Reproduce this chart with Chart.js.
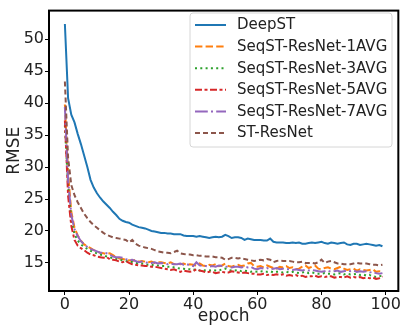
<!DOCTYPE html>
<html>
<head>
<meta charset="utf-8">
<script src="https://cdn.jsdelivr.net/npm/chart.js@4/dist/chart.umd.min.js"></script>
<style>
html,body{margin:0;padding:0;background:#fff;}
#c{display:block;}
</style>
</head>
<body>
<canvas id="c" width="401" height="329"></canvas>
<script>
const epochs = Array.from({length: 100}, (_, i) => i);
const xTicks = [0, 20, 40, 60, 80, 100];
const yTicks = [15, 20, 25, 30, 35, 40, 45, 50];
const seriesNames = ["DeepST", "SeqST-ResNet-1AVG", "SeqST-ResNet-3AVG", "SeqST-ResNet-5AVG", "SeqST-ResNet-7AVG", "ST-ResNet"];

const deepST = [
52.4,40.8,38.2,37.0,35.2,33.6,31.8,30.0,28.0,26.8,
25.9,25.2,24.6,24.1,23.6,23.0,22.5,21.9,21.6,21.4,
21.3,21.0,20.8,20.6,20.5,20.4,20.2,20.0,19.9,19.8,
19.7,19.7,19.6,19.6,19.5,19.5,19.5,19.3,19.2,19.2,
19.2,19.1,19.2,19.1,19.0,18.9,19.0,19.1,19.0,19.1,
19.4,19.2,18.9,19.0,19.0,18.9,18.6,18.8,18.7,18.6,
18.6,18.6,18.5,18.5,18.8,18.3,18.2,18.2,18.2,18.1,
18.1,18.2,18.1,18.2,18.0,18.0,18.1,18.2,18.1,18.2,
18.3,18.1,18.0,18.2,18.1,18.0,18.1,18.2,17.9,17.8,
18.0,18.0,17.8,17.9,18.0,17.9,17.8,17.7,17.8,17.6];

const seq1AVG = [
39.8,29.0,23.0,20.5,19.3,18.5,17.9,17.6,17.3,17.0,
16.8,16.6,16.5,16.4,16.5,16.2,15.9,15.7,15.6,15.5,
15.4,15.3,15.5,15.2,15.3,15.2,15.1,15.2,15.0,15.1,
15.1,15.0,14.9,15.1,14.8,14.9,14.8,14.9,14.7,14.8,
14.7,14.6,14.9,14.6,14.5,14.7,14.6,14.8,14.5,14.6,
14.9,14.5,14.4,14.6,14.7,14.5,14.6,14.9,15.0,14.5,
14.4,14.5,14.3,14.6,14.4,14.2,14.1,14.4,14.3,14.5,
14.2,14.3,14.0,14.1,14.4,14.6,14.2,14.4,14.6,14.1,
14.0,14.2,14.3,14.1,14.0,14.2,14.4,14.1,13.9,14.0,
14.1,13.8,14.0,13.9,13.8,13.9,14.0,13.6,13.7,13.6];

const seq3AVG = [
36.5,27.0,21.8,19.5,18.5,17.9,17.5,17.2,16.9,16.7,
16.5,16.3,16.2,16.0,15.9,15.7,15.6,15.5,15.4,15.3,
15.3,15.1,15.0,15.0,14.9,14.8,14.7,14.7,14.6,14.6,
14.5,14.5,14.4,14.4,14.3,14.2,14.1,14.1,14.0,14.0,
13.9,14.0,13.8,13.9,13.8,13.8,13.9,13.8,13.8,14.0,
14.1,13.9,13.8,13.8,13.9,13.7,13.8,13.7,13.6,13.7,
13.6,13.7,13.6,13.6,13.7,13.5,13.6,13.6,13.5,13.6,
13.5,13.6,13.5,13.4,13.5,13.6,13.4,13.5,13.4,13.3,
13.3,13.4,13.3,13.3,13.2,13.3,13.4,13.2,13.3,13.2,
13.2,13.3,13.1,13.2,13.0,13.1,12.9,12.8,12.9,13.0];

const seq5AVG = [
37.3,25.5,20.8,18.6,17.7,17.3,17.0,16.6,16.3,16.2,
16.0,15.9,15.8,15.9,15.6,15.5,15.4,15.2,15.1,15.3,
15.0,14.8,14.7,14.6,14.6,14.5,14.5,14.4,14.4,14.3,
14.2,14.1,14.0,13.9,14.0,13.8,13.6,13.8,13.7,13.6,
13.7,14.0,13.8,13.7,13.5,13.6,13.6,13.4,13.5,13.6,
13.5,13.5,13.7,13.6,13.5,13.4,13.5,13.4,13.3,13.3,
13.2,13.2,13.3,13.1,13.2,13.1,13.2,13.1,13.2,13.0,
13.1,13.0,13.1,12.9,13.0,12.8,12.9,12.9,13.0,12.8,
12.9,12.8,12.9,12.9,12.7,12.8,12.8,12.7,12.9,12.7,
12.8,12.7,12.8,12.6,12.7,12.6,12.7,12.5,12.6,12.9];

const seq7AVG = [
39.4,28.0,22.5,20.3,19.2,18.4,17.9,17.5,17.2,17.0,
16.8,16.6,16.6,16.5,16.3,16.0,15.9,15.9,15.8,15.6,
15.4,15.5,15.3,15.1,15.2,15.1,15.0,15.0,15.1,14.9,
15.0,14.9,14.8,14.9,14.8,14.8,14.9,14.7,14.8,14.6,
14.5,15.1,14.6,14.5,14.5,14.4,14.5,14.4,14.6,14.5,
14.4,14.4,14.3,14.4,14.4,14.3,14.4,14.3,14.4,14.1,
14.0,14.2,14.1,14.2,14.0,14.1,14.2,14.0,14.1,14.0,
14.0,13.9,14.0,13.9,13.8,13.9,13.8,13.9,13.8,13.7,
13.6,13.7,13.8,13.6,13.7,13.8,13.6,13.7,13.8,13.7,
13.8,13.6,13.7,13.6,13.7,13.5,13.6,13.4,13.3,13.4];

const stResNet = [
43.4,31.5,27.2,25.6,24.5,23.6,22.7,22.0,21.4,20.9,
20.5,20.1,19.7,19.4,19.2,19.0,18.9,18.8,18.7,18.6,
18.2,18.6,18.0,17.7,17.6,17.4,17.3,17.2,17.0,16.8,
16.7,16.6,16.6,16.5,16.7,16.9,16.5,16.4,16.3,16.3,
16.2,16.2,16.1,16.1,16.0,16.0,16.0,15.9,15.9,15.8,
15.5,15.6,15.8,15.8,15.7,15.8,15.6,15.5,15.4,15.3,
15.4,15.5,15.4,15.6,15.5,15.1,15.3,15.4,15.3,15.3,
15.3,15.2,15.1,15.1,15.2,15.0,15.0,15.0,14.9,15.1,
15.5,15.0,15.2,15.3,15.1,14.9,14.9,14.8,14.8,14.8,
14.9,15.0,14.9,14.9,14.9,14.8,14.7,14.7,14.6,14.7];

const seriesValues = [deepST, seq1AVG, seq3AVG, seq5AVG, seq7AVG, stResNet];
const colors = ["#1f77b4", "#ff7f0e", "#2ca02c", "#d62728", "#9467bd", "#8c564b"];
const dashes = [[], [7.4, 3.2], [2, 3.3], [7, 2.5, 3, 2.5], [12.8, 3.2, 2, 3.2], [5, 3]];

const FONT = "'DejaVu Sans', sans-serif";
const TXT = "#222";

const datasets = seriesNames.map((name, i) => ({
  label: name,
  data: epochs.map((e, j) => ({x: e, y: seriesValues[i][j]})),
  borderColor: colors[i],
  backgroundColor: colors[i],
  borderDash: dashes[i],
  borderWidth: 2,
  pointRadius: 0,
  tension: 0,
  fill: false,
  order: seriesNames.length - i
}));

const framePlugin = {
  id: 'frame',
  afterDraw(chart) {
    const {ctx, chartArea: a} = chart;
    ctx.save();
    ctx.strokeStyle = '#000';
    ctx.lineWidth = 2;
    ctx.strokeRect(a.left, a.top, a.right - a.left, a.bottom - a.top);
    ctx.restore();

    // legend
    const bx = 190, by = 13, bw = 202, bh = 134, r = 3;
    ctx.save();
    ctx.beginPath();
    ctx.moveTo(bx + r, by);
    ctx.arcTo(bx + bw, by, bx + bw, by + bh, r);
    ctx.arcTo(bx + bw, by + bh, bx, by + bh, r);
    ctx.arcTo(bx, by + bh, bx, by, r);
    ctx.arcTo(bx, by, bx + bw, by, r);
    ctx.closePath();
    ctx.fillStyle = 'rgba(255,255,255,0.8)';
    ctx.fill();
    ctx.strokeStyle = '#d6d6d6';
    ctx.lineWidth = 1;
    ctx.stroke();
    chart.data.datasets.forEach((ds, i) => {
      const y = 25 + i * 21.6;
      ctx.beginPath();
      ctx.setLineDash(ds.borderDash);
      ctx.strokeStyle = ds.borderColor;
      ctx.lineWidth = 2;
      ctx.moveTo(195, y);
      ctx.lineTo(226, y);
      ctx.stroke();
      ctx.setLineDash([]);
      ctx.fillStyle = TXT;
      ctx.font = "15px " + FONT;
      ctx.textBaseline = 'middle';
      ctx.textAlign = 'left';
      ctx.fillText(ds.label, 237, y + 0.5);
    });
    ctx.restore();
  }
};

new Chart(document.getElementById('c'), {
  type: 'line',
  data: {datasets},
  options: {
    responsive: false,
    devicePixelRatio: 1,
    animation: false,
    layout: {padding: {top: 6, right: 2, left: 0, bottom: 0}},
    plugins: {legend: {display: false}, tooltip: {enabled: false}},
    scales: {
      x: {
        type: 'linear',
        min: -4.95,
        max: 103.95,
        afterBuildTicks: s => { s.ticks = xTicks.map(v => ({value: v})); },
        afterFit: s => { s.height = 38; },
        grid: {display: true, drawOnChartArea: false, drawTicks: true, tickLength: 4, color: '#000', tickWidth: 1},
        border: {display: false},
        ticks: {font: {family: FONT, size: 16}, color: TXT, padding: 0, maxRotation: 0},
        title: {display: true, text: 'epoch', font: {family: FONT, size: 17}, color: TXT, padding: {top: 0, bottom: 2}}
      },
      y: {
        type: 'linear',
        min: 10.6,
        max: 54.5,
        afterBuildTicks: s => { s.ticks = yTicks.map(v => ({value: v})); },
        afterFit: s => { s.width = 49; },
        grid: {display: true, drawOnChartArea: false, drawTicks: true, tickLength: 4, color: '#000', tickWidth: 1},
        border: {display: false},
        ticks: {font: {family: FONT, size: 16}, color: TXT, padding: 1},
        title: {display: true, text: 'RMSE', font: {family: FONT, size: 17}, color: TXT, padding: {top: 4, bottom: 0}}
      }
    }
  },
  plugins: [framePlugin]
});
</script>
</body>
</html>
